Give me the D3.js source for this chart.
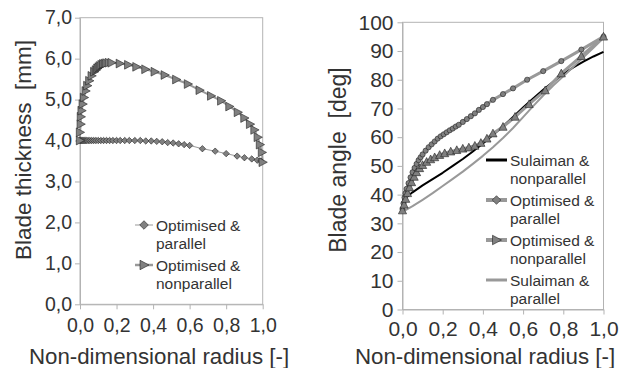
<!DOCTYPE html>
<html>
<head>
<meta charset="utf-8">
<script src="https://cdn.jsdelivr.net/npm/d3@7"></script>
<style>
  body { margin: 0; background: #fff; }
  svg { display: block; font-family: "Liberation Sans", Arial, sans-serif; }
</style>
</head>
<body>
<svg id="chart" width="621" height="368"></svg>
<script>
// ---- left panel: blade thickness ----
const thickTicksY = [0, 1, 2, 3, 4, 5, 6, 7];
const radiusTicks = [0, 0.2, 0.4, 0.6, 0.8, 1.0];

const thickParX = [0, .004, .008, .013, .018, .024, .03, .037, .045, .054, .064, .075, .087, .1, .114, .129, .145, .162, .18, .2, .22, .245, .27, .3, .33, .36, .39, .42, .45, .48, .51, .54, .57, .6, .67, .74, .8, .86, .9, .94, .97, .99];
const thickParY = [4.0, 4.0, 4.0, 4.0, 4.0, 4.0, 4.0, 4.0, 4.0, 4.0, 4.0, 4.0, 4.0, 4.0, 4.0, 4.0, 4.0, 4.0, 4.0, 4.0, 4.0, 4.0, 4.0, 4.0, 4.0, 3.99, 3.99, 3.98, 3.97, 3.95, 3.94, 3.92, 3.9, 3.88, 3.8, 3.74, 3.68, 3.62, 3.58, 3.55, 3.52, 3.5];

const thickNonX = [0, 0, .004, .005, .009, .015, .022, .031, .04, .051, .064, .078, .087, .095, .102, .109, .118, .127, .136, .145, .158, .173, .218, .264, .309, .358, .409, .464, .527, .591, .655, .718, .773, .818, .864, .9, .931, .955, .973, .985, .996, 1.0];
const thickNonY = [4.0, 4.2, 4.4, 4.58, 4.73, 4.89, 5.05, 5.21, 5.34, 5.46, 5.58, 5.68, 5.72, 5.76, 5.79, 5.82, 5.85, 5.87, 5.88, 5.89, 5.9, 5.9, 5.88, 5.85, 5.8, 5.74, 5.68, 5.6, 5.49, 5.38, 5.23, 5.09, 4.97, 4.83, 4.69, 4.55, 4.4, 4.26, 4.08, 3.9, 3.71, 3.47];

// ---- right panel: blade angle ----
const angleTicksY = [0, 10, 20, 30, 40, 50, 60, 70, 80, 90, 100];

const sulNonX = [0, .05, .1, .15, .2, .25, .3, .35, .4, .45, .5, .55, .6, .65, .7, .75, .8, .85, .9, .95, 1.0];
const sulNonY = [38, 40.8, 43.2, 45.4, 47.6, 50, 52.4, 55, 57.8, 60.8, 63.8, 67, 70.3, 73.5, 76.5, 79.3, 82, 84.3, 86.3, 88.1, 89.7];

const optParX = [0, .005, .01, .015, .02, .03, .04, .05, .06, .07, .08, .09, .1, .115, .13, .145, .16, .175, .19, .205, .22, .235, .25, .265, .28, .3, .32, .34, .36, .38, .4, .42, .45, .5, .55, .62, .7, .79, .89, 1.0];
const optParY = [35, 37, 39, 40.5, 42, 44, 46, 47.8, 49.3, 50.7, 52, 53, 54, 55.3, 56.5, 57.5, 58.5, 59.5, 60.3, 61, 61.7, 62.4, 63, 63.7, 64.3, 65.3, 66.3, 67.3, 68.3, 69.5, 70.5, 71.5, 73, 75, 77, 80, 83, 86.5, 90.5, 95];

const optNonX = [0, .008, .016, .025, .035, .045, .058, .07, .085, .1, .12, .14, .16, .185, .21, .24, .27, .3, .33, .36, .39, .42, .45, .5, .56, .63, .71, .79, .89, 1.0];
const optNonY = [34.5, 36.5, 38.5, 40.5, 42.5, 44.3, 46.2, 47.8, 49.2, 50.3, 51.4, 52.3, 53, 53.8, 54.4, 55, 55.5, 56, 56.4, 57, 58, 59.5, 61.3, 63.6, 67.1, 71.5, 76.3, 82.2, 88.2, 95];

const sulParX = [0, .05, .1, .15, .2, .25, .3, .35, .4, .45, .5, .55, .6, .65, .7, .75, .8, .85, .9, .95, 1.0];
const sulParY = [34, 36, 38.2, 40.5, 43, 45.5, 48, 50.7, 53.5, 56.5, 59.7, 63.2, 67, 70.8, 74.5, 78, 81.2, 84.5, 87.8, 91.1, 94.5];

const zip = (xs, ys) => xs.map((x, i) => ({ x, y: ys[i] }));
const comma1 = d => d3.format(".1f")(d).replace(".", ",");

const GRID = "#b3b3b3";
const TEXT = "#333";
const MARK_FILL = "#808080";
const MARK_STROKE = "#222";

const svg = d3.select("#chart");

// custom marker shapes (size = half-extent in px)
const triRight = { draw(ctx, s) {
  ctx.moveTo(s, 0); ctx.lineTo(-s * 0.8, -s * 0.95); ctx.lineTo(-s * 0.8, s * 0.95); ctx.closePath();
}};
const triUp = { draw(ctx, s) {
  ctx.moveTo(0, -s); ctx.lineTo(s * 0.95, s * 0.8); ctx.lineTo(-s * 0.95, s * 0.8); ctx.closePath();
}};
const diamond = { draw(ctx, s) {
  ctx.moveTo(0, -s); ctx.lineTo(s, 0); ctx.lineTo(0, s); ctx.lineTo(-s, 0); ctx.closePath();
}};
const circle = { draw(ctx, s) {
  ctx.moveTo(s, 0); ctx.arc(0, 0, s, 0, 2 * Math.PI);
}};

function panel(o) {
  const x = d3.scaleLinear().domain([0, 1]).range([o.left, o.right]);
  const y = d3.scaleLinear().domain(o.yDomain).range([o.bottom, o.top]);
  const g = svg.append("g");

  g.append("rect")
    .attr("x", o.left).attr("y", o.top)
    .attr("width", o.right - o.left).attr("height", o.bottom - o.top)
    .attr("fill", "none").attr("stroke", GRID);

  const ax = g.append("g")
    .attr("transform", `translate(0,${o.bottom})`)
    .call(d3.axisBottom(x).tickValues(radiusTicks).tickFormat(comma1)
      .tickSize(5).tickSizeOuter(0).tickPadding(o.xPad));
  const ay = g.append("g")
    .attr("transform", `translate(${o.left},0)`)
    .call(d3.axisLeft(y).tickValues(o.yTicks).tickFormat(o.yFormat)
      .tickSize(5).tickSizeOuter(0).tickPadding(o.yPad));
  [ax, ay].forEach(a => {
    a.select(".domain").attr("stroke", GRID);
    a.selectAll(".tick line").attr("stroke", GRID);
    a.selectAll(".tick text").attr("font-size", o.tickFont).attr("fill", TEXT)
      .attr("font-family", "Liberation Sans, Arial, sans-serif");
  });

  g.append("text")
    .attr("x", o.xLabelX).attr("y", 364)
    .attr("text-anchor", "middle").attr("font-size", 22.3).attr("fill", TEXT)
    .text("Non-dimensional radius [-]");
  g.append("text")
    .attr("transform", `translate(${o.yLabelX},${o.yLabelY}) rotate(-90)`)
    .attr("text-anchor", "middle").attr("dominant-baseline", "central")
    .attr("font-size", o.yLabelFont).attr("fill", TEXT)
    .style("white-space", "pre")
    .text(o.yLabel);

  return { x, y, g };
}

function drawLine(p, data, color, width) {
  const line = d3.line().x(d => p.x(d.x)).y(d => p.y(d.y));
  p.g.append("path").datum(data)
    .attr("d", line).attr("fill", "none")
    .attr("stroke", color).attr("stroke-width", width)
    .attr("stroke-linejoin", "round");
}

function drawMarks(p, data, sym, size) {
  p.g.append("g").selectAll("path")
    .data(data).join("path")
    .attr("transform", d => `translate(${p.x(d.x)},${p.y(d.y)})`)
    .attr("d", d3.symbol().type(sym).size(size)())
    .attr("fill", MARK_FILL).attr("stroke", MARK_STROKE).attr("stroke-width", 0.6);
}

function legendEntry(g, x0, x1, y, lines, color, width, sym, size) {
  g.append("line").attr("x1", x0).attr("x2", x1).attr("y1", y).attr("y2", y)
    .attr("stroke", color).attr("stroke-width", width);
  if (sym) {
    g.append("path")
      .attr("transform", `translate(${(x0 + x1) / 2},${y})`)
      .attr("d", d3.symbol().type(sym).size(size)())
      .attr("fill", MARK_FILL).attr("stroke", MARK_STROKE).attr("stroke-width", 0.6);
  }
  lines.forEach((t, i) => {
    g.append("text").attr("x", x1 + 3).attr("y", y + i * 18.5)
      .attr("dominant-baseline", "central")
      .attr("font-size", 15.5).attr("fill", TEXT).text(t);
  });
}

// ----- left -----
const L = panel({
  left: 80, right: 262.7, top: 17.7, bottom: 304.3,
  yDomain: [0, 7], yTicks: thickTicksY, yFormat: comma1,
  tickFont: 19.5, yPad: 3, xPad: 9,
  xLabelX: 159, yLabel: "Blade thickness  [mm]", yLabelFont: 22.5, yLabelX: 23, yLabelY: 150
});
drawLine(L, zip(thickParX, thickParY), "#999", 1);
drawLine(L, zip(thickNonX, thickNonY), "#999", 2);
drawMarks(L, zip(thickParX, thickParY), diamond, 3.2);
drawMarks(L, zip(thickNonX, thickNonY), triRight, 4.6);
legendEntry(L.g, 135, 153, 225, ["Optimised &", "parallel"], "#999", 1, diamond, 4.3);
legendEntry(L.g, 135, 153, 265, ["Optimised &", "nonparallel"], "#999", 2.5, triRight, 5);

// ----- right -----
const R = panel({
  left: 402.5, right: 603.5, top: 22.3, bottom: 309.5,
  yDomain: [0, 100], yTicks: angleTicksY, yFormat: d3.format("d"),
  tickFont: 21, yPad: 4, xPad: 7,
  xLabelX: 485, yLabel: "Blade angle  [deg]", yLabelFont: 23, yLabelX: 338, yLabelY: 160
});
drawLine(R, zip(sulNonX, sulNonY), "#000", 2);
drawLine(R, zip(optParX, optParY), "#999", 3);
drawLine(R, zip(optNonX, optNonY), "#999", 3);
drawLine(R, zip(sulParX, sulParY), "#999", 2);
drawMarks(R, zip(optParX, optParY), circle, 2.6);
drawMarks(R, zip(optNonX, optNonY), triUp, 4.3);
legendEntry(R.g, 486, 507, 160, ["Sulaiman &", "nonparallel"], "#000", 3, null, 0);
legendEntry(R.g, 486, 507, 200, ["Optimised &", "parallel"], "#999", 4, diamond, 4.3);
legendEntry(R.g, 486, 507, 240, ["Optimised &", "nonparallel"], "#999", 4, triRight, 5);
legendEntry(R.g, 486, 507, 280, ["Sulaiman &", "parallel"], "#999", 3, null, 0);
</script>
</body>
</html>
